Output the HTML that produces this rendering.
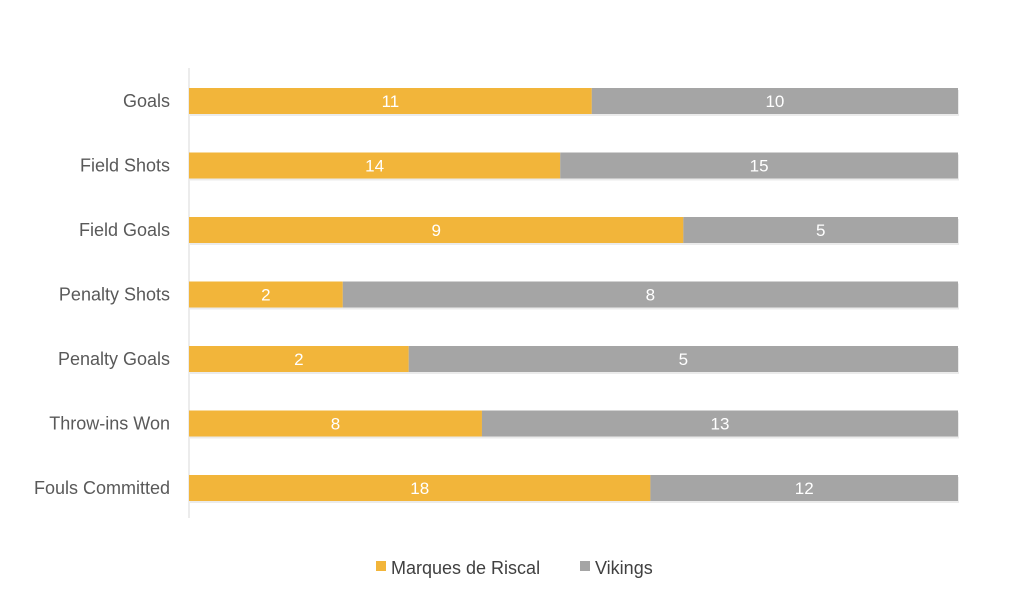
<!DOCTYPE html>
<html><head><meta charset="utf-8"><style>
body{margin:0;background:#fff;}
svg{display:block;font-family:"Liberation Sans",sans-serif;}
</style></head><body>
<svg id="chart" width="1024" height="603"></svg>
<script>
const categories = ["Goals","Field Shots","Field Goals","Penalty Shots","Penalty Goals","Throw-ins Won","Fouls Committed"];
const marquesValues = [11,14,9,2,2,8,18];
const vikingsValues = [10,15,5,8,5,13,12];
const seriesNames = ["Marques de Riscal","Vikings"];

const NS="http://www.w3.org/2000/svg";
const svg=document.getElementById('chart');
const x0=189, x1=958, y0=101, step=64.5, bh=26;
const colors=["#F2B53A","#A5A5A5"];
function xScale(frac){return x0+frac*(x1-x0);}
function yScale(i){return y0+i*step;}
function mk(tag,attrs){const e=document.createElementNS(NS,tag);for(const k in attrs)e.setAttribute(k,attrs[k]);svg.appendChild(e);return e;}

const axis=mk('line',{x1:x0,x2:x0,y1:68,y2:518,stroke:'#d9d9d9','stroke-width':1});



categories.forEach((c,i)=>{
  const total=marquesValues[i]+vikingsValues[i];
  const cy=yScale(i);
  const f=marquesValues[i]/total;
  const xm=xScale(f);
  const lab=mk('text',{x:170,y:cy+6,'text-anchor':'end','font-size':18,fill:'#595959'});
  lab.textContent=c;
  
  
  const sh=mk('rect',{x:x0+1,y:cy-bh/2+2,width:x1-x0,height:bh,fill:'#000',opacity:0.08});
  
  
  const b1=mk('rect',{x:x0,y:cy-bh/2,width:xm-x0,height:bh,fill:colors[0]});
  
  
  const b2=mk('rect',{x:xm,y:cy-bh/2,width:x1-xm,height:bh,fill:colors[1]});
  
  
  const t1=mk('text',{x:(x0+xm)/2,y:cy+6,'text-anchor':'middle','font-size':17,fill:'#fff'});
  t1.textContent=marquesValues[i];
  
  
  const t2=mk('text',{x:(xm+x1)/2,y:cy+6,'text-anchor':'middle','font-size':17,fill:'#fff'});
  t2.textContent=vikingsValues[i];
  
  
});

const lx=[376,580];
seriesNames.forEach((n,i)=>{
  const r=mk('rect',{x:lx[i],y:561,width:10,height:10,fill:colors[i]});
  
  
  const t=mk('text',{x:lx[i]+15,y:574,'font-size':18,fill:'#404040'});
  t.textContent=n;
  
  
});
</script>
</body></html>
